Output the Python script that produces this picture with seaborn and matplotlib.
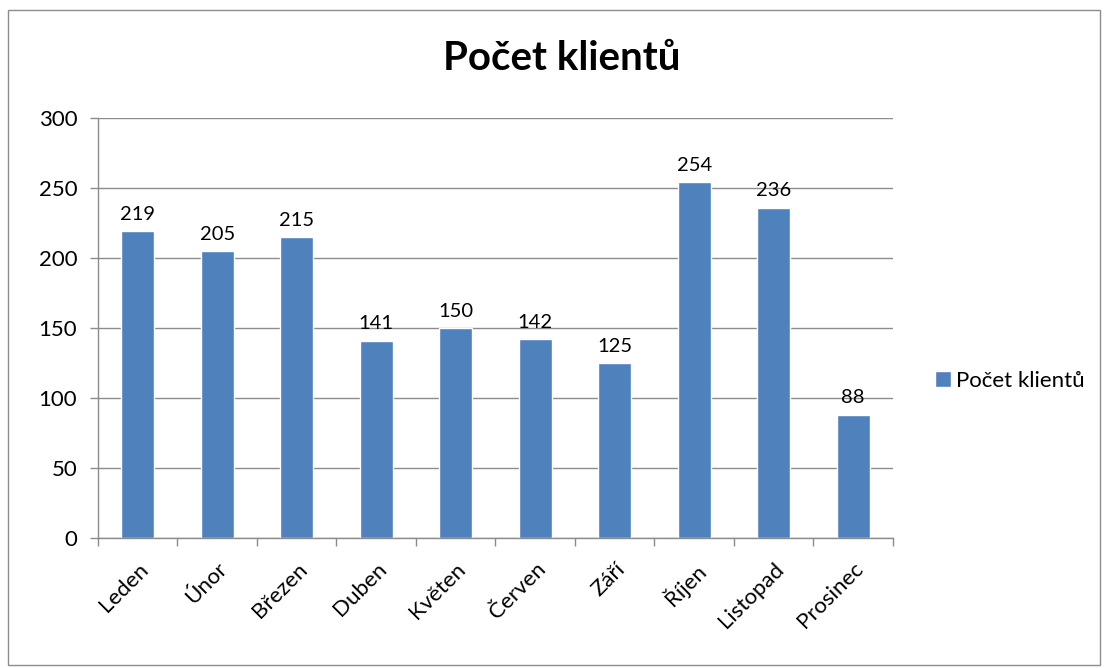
import matplotlib
matplotlib.use("Agg")
import matplotlib.pyplot as plt
import seaborn as sns
import pandas as pd
import numpy as np
from matplotlib.patches import Rectangle

months = ["Leden", "Únor", "Březen", "Duben", "Květen", "Červen",
          "Září", "Říjen", "Listopad", "Prosinec"]
clients = [219, 205, 215, 141, 150, 142, 125, 254, 236, 88]
series_name = "Počet klientů"

sns.set_theme(style="white")
plt.rcParams['font.family'] = ['Lato', 'DejaVu Sans']
plt.rcParams['text.color'] = 'black'
plt.rcParams['xtick.color'] = 'black'
plt.rcParams['ytick.color'] = 'black'

df = pd.DataFrame({"month": months, "clients": clients, "series": series_name})

fig = plt.figure(figsize=(11.06, 6.68), dpi=100)
ax = fig.add_axes([0.0886, 0.1946, 0.7188, 0.6287])

bar_color = "#4F81BD"
sns.barplot(ax=ax, data=df, x="month", y="clients", hue="series",
            palette=[bar_color], width=0.42, saturation=1, legend=True)

for p, v in zip(ax.patches, clients):
    ax.text(p.get_x() + p.get_width() / 2, v + 6, str(v),
            ha="center", va="bottom", fontsize=14.5, color="black")

ax.set_ylim(0, 300)
ax.set_xlim(-0.5, len(months) - 0.5)
ax.set_yticks(range(0, 301, 50))
ax.yaxis.grid(True, color="#8c8c8c", linewidth=1)
ax.set_axisbelow(True)
ax.set_xlabel("")
ax.set_ylabel("")

for s in ["top", "right"]:
    ax.spines[s].set_visible(False)
for s in ["left", "bottom"]:
    ax.spines[s].set_color("#8c8c8c")
    ax.spines[s].set_linewidth(1)

ax.tick_params(axis="y", which="major", length=6, width=1, color="#8c8c8c",
               labelcolor="black", labelsize=16, pad=9, left=True)
ax.set_xticks(np.arange(len(months)))
ax.set_xticklabels(months, rotation=45, ha="right", rotation_mode="anchor",
                   fontsize=16)
ax.tick_params(axis="x", which="major", length=0, pad=15, bottom=True,
               labelcolor="black")
ax.set_xticks(np.arange(-0.5, len(months), 1), minor=True)
ax.tick_params(axis="x", which="minor", length=6, width=1, color="#8c8c8c",
               bottom=True)

fig.text(0.508, 0.912, series_name, ha="center", va="center",
         fontsize=29, fontweight="bold", color="black")

leg = ax.legend(loc="center left", bbox_to_anchor=(1.028, 0.375), frameon=False,
                fontsize=16, handlelength=0.7, handleheight=0.7,
                handletextpad=0.25)

fig.patches.append(Rectangle((8 / 1106, 3 / 668), 1092 / 1106, 655 / 668,
                             transform=fig.transFigure, fill=False,
                             edgecolor="#8c8c8c", linewidth=1))

fig.savefig("out.png", dpi=100)
